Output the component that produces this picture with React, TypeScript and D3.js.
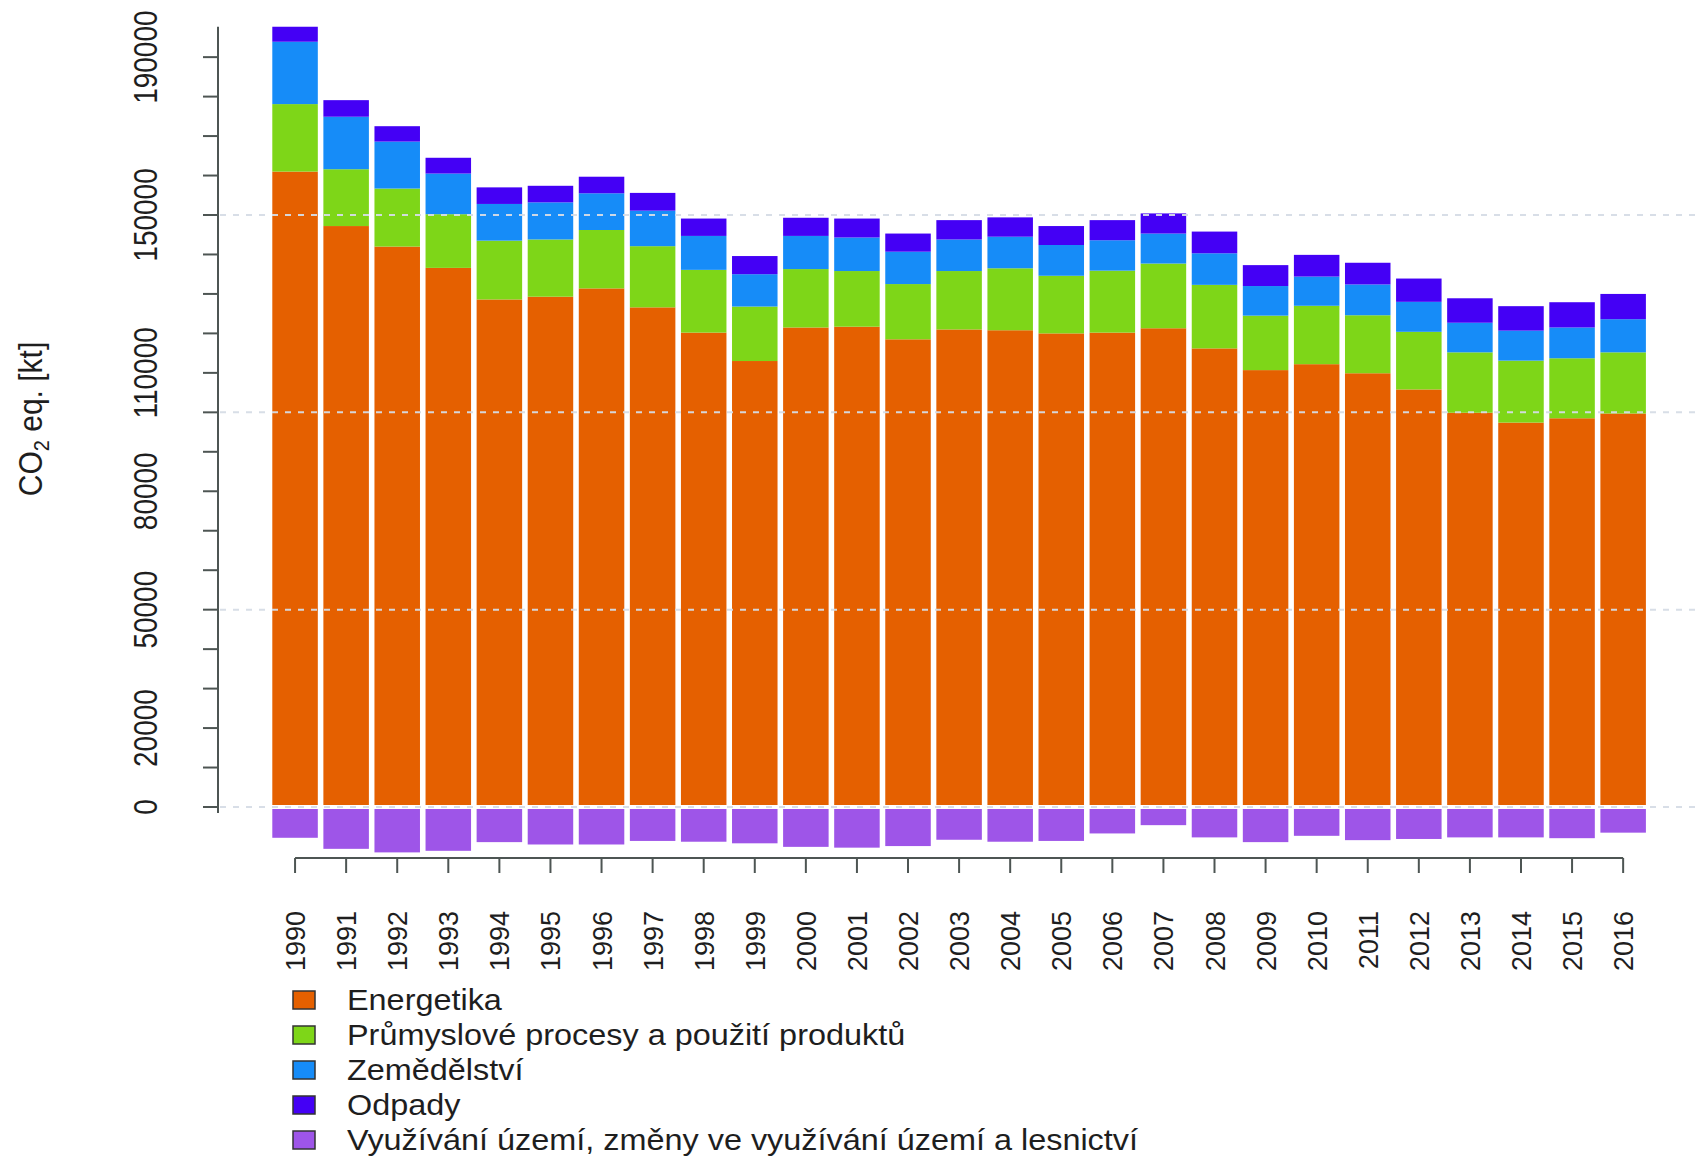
import React from "react";
import * as d3 from "d3";

const years = ["1990","1991","1992","1993","1994","1995","1996","1997","1998","1999","2000","2001","2002","2003","2004","2005","2006","2007","2008","2009","2010","2011","2012","2013","2014","2015","2016"];

const energetika = [161000,147200,142000,136600,128600,129300,131400,126600,120200,113000,121500,121700,118500,121000,120800,120000,120200,121300,116200,110700,112200,109900,105800,99900,97400,98500,99700];
const prumysl = [17100,14400,14700,13600,14900,14500,14800,15500,15900,13800,14800,14100,14000,14800,15700,14600,15700,16400,16100,13800,14800,14700,14600,15300,15700,15200,15500];
const zemedelstvi = [15800,13300,11900,10300,9300,9400,9300,9000,8600,8200,8400,8500,8200,8000,8000,7800,7700,7600,8000,7500,7400,7800,7600,7500,7600,7800,8400];
const odpady = [3800,4200,3900,4000,4200,4200,4200,4500,4400,4600,4600,4800,4600,4900,4900,4800,5100,5100,5500,5300,5500,5500,5900,6200,6200,6400,6400];
const lulucf = [-7800,-10600,-11500,-11100,-8900,-9500,-9500,-8600,-8800,-9200,-10100,-10300,-9900,-8300,-8800,-8600,-6700,-4600,-7700,-8900,-7300,-8400,-8100,-7700,-7700,-7900,-6500];

const seriesNames = [
  "Energetika",
  "Průmyslové procesy a použití produktů",
  "Zemědělství",
  "Odpady",
  "Využívání území, změny ve využívání území a lesnictví",
];
const seriesColors = ["#E56000", "#7ED618", "#168CF8", "#4400F5", "#9E55E8"];

const yTickValues = [0,10000,20000,30000,40000,50000,60000,70000,80000,90000,100000,110000,120000,130000,140000,150000,160000,170000,180000,190000];
const yLabelValues = [0, 20000, 50000, 80000, 110000, 150000, 190000];
const gridValues = [0, 50000, 100000, 150000];

const W = 1706;
const H = 1157;
const FONT = "'Liberation Sans', Arial, sans-serif";

export default function App() {
  const x = d3.scaleBand<string>().domain(years).range([272.3, 1645.9]).paddingInner(0.109).paddingOuter(0);
  const y = d3.scaleLinear().domain([0, 150000]).range([807, 215]);

  const positive = [energetika, prumysl, zemedelstvi, odpady];
  const table = years.map((yr, i) => {
    const row: any = { year: yr };
    positive.forEach((s, k) => (row["s" + k] = s[i]));
    return row;
  });
  const stack = d3.stack<any>().keys(["s0", "s1", "s2", "s3"])(table);
  const totals = years.map((_, i) => positive.reduce((a, s) => a + s[i], 0));
  const maxTotal = d3.max(totals) as number;

  const axisColor = "#4d5553";
  const textColor = "#1e1e1e";
  const bw = x.bandwidth();

  return (
    <svg width={W} height={H} style={{ position: "absolute", left: 0, top: 0, background: "#fff" }} fontFamily={FONT}>
      <rect x={0} y={0} width={W} height={H} fill="#fff" />
      {/* bars */}
      {stack.map((layer, k) => (
        <g key={k} fill={seriesColors[k]}>
          {layer.map((d, i) => (
            <rect key={i} x={x(years[i])} y={y(d[1])} width={bw} height={y(d[0]) - y(d[1])} />
          ))}
        </g>
      ))}
      <g fill={seriesColors[4]}>
        {lulucf.map((v, i) => (
          <rect key={i} x={x(years[i])} y={y(0)} width={bw} height={y(v) - y(0)} />
        ))}
      </g>
      {/* grid */}
      <line x1={220} x2={1702} y1={y(0)} y2={y(0)} stroke="#fff" strokeWidth={4} />
      {gridValues.map((g) => (
        <line key={g} x1={220} x2={1702} y1={y(g)} y2={y(g)} stroke="#d6dde6" strokeWidth={2} strokeDasharray="6,7" opacity={0.95} />
      ))}
      {/* y axis */}
      <line x1={218} x2={218} y1={y(-1500)} y2={y(maxTotal)} stroke={axisColor} strokeWidth={2} />
      {yTickValues.map((t) => (
        <line key={t} x1={203} x2={218} y1={y(t)} y2={y(t)} stroke={axisColor} strokeWidth={2} />
      ))}
      {yLabelValues.map((t) => (
        <text key={t} transform={`translate(157,${y(t)}) scale(1.2,1) rotate(-90)`} textAnchor="middle" fontSize={28} fill={textColor}>
          {String(t)}
        </text>
      ))}
      <text transform={`translate(42,419) scale(1.1,1) rotate(-90)`} textAnchor="middle" fontSize={30} fill={textColor}>
        CO<tspan fontSize={20} dy={6}>2</tspan>
        <tspan dy={-6}> eq. [kt]</tspan>
      </text>
      {/* x axis */}
      <line x1={(x(years[0]) as number) + bw / 2} x2={(x(years[years.length - 1]) as number) + bw / 2} y1={858} y2={858} stroke={axisColor} strokeWidth={2} />
      {years.map((yr) => {
        const cx = (x(yr) as number) + bw / 2;
        return (
          <g key={yr}>
            <line x1={cx} x2={cx} y1={858} y2={873} stroke={axisColor} strokeWidth={2} />
            <text transform={`translate(${cx + 10},911) rotate(-90)`} textAnchor="end" fontSize={27} fill={textColor}>
              {yr}
            </text>
          </g>
        );
      })}
      {/* legend */}
      {seriesNames.map((n, i) => {
        const cy = 1000 + i * 35;
        return (
          <g key={n}>
            <rect x={293} y={cy - 9} width={22} height={18} fill={seriesColors[i]} stroke="#333" strokeWidth={1.5} />
            <text transform={`translate(347,${cy + 10}) scale(1.08,1)`} fontSize={30} fill={textColor}>
              {n}
            </text>
          </g>
        );
      })}
    </svg>
  );
}
